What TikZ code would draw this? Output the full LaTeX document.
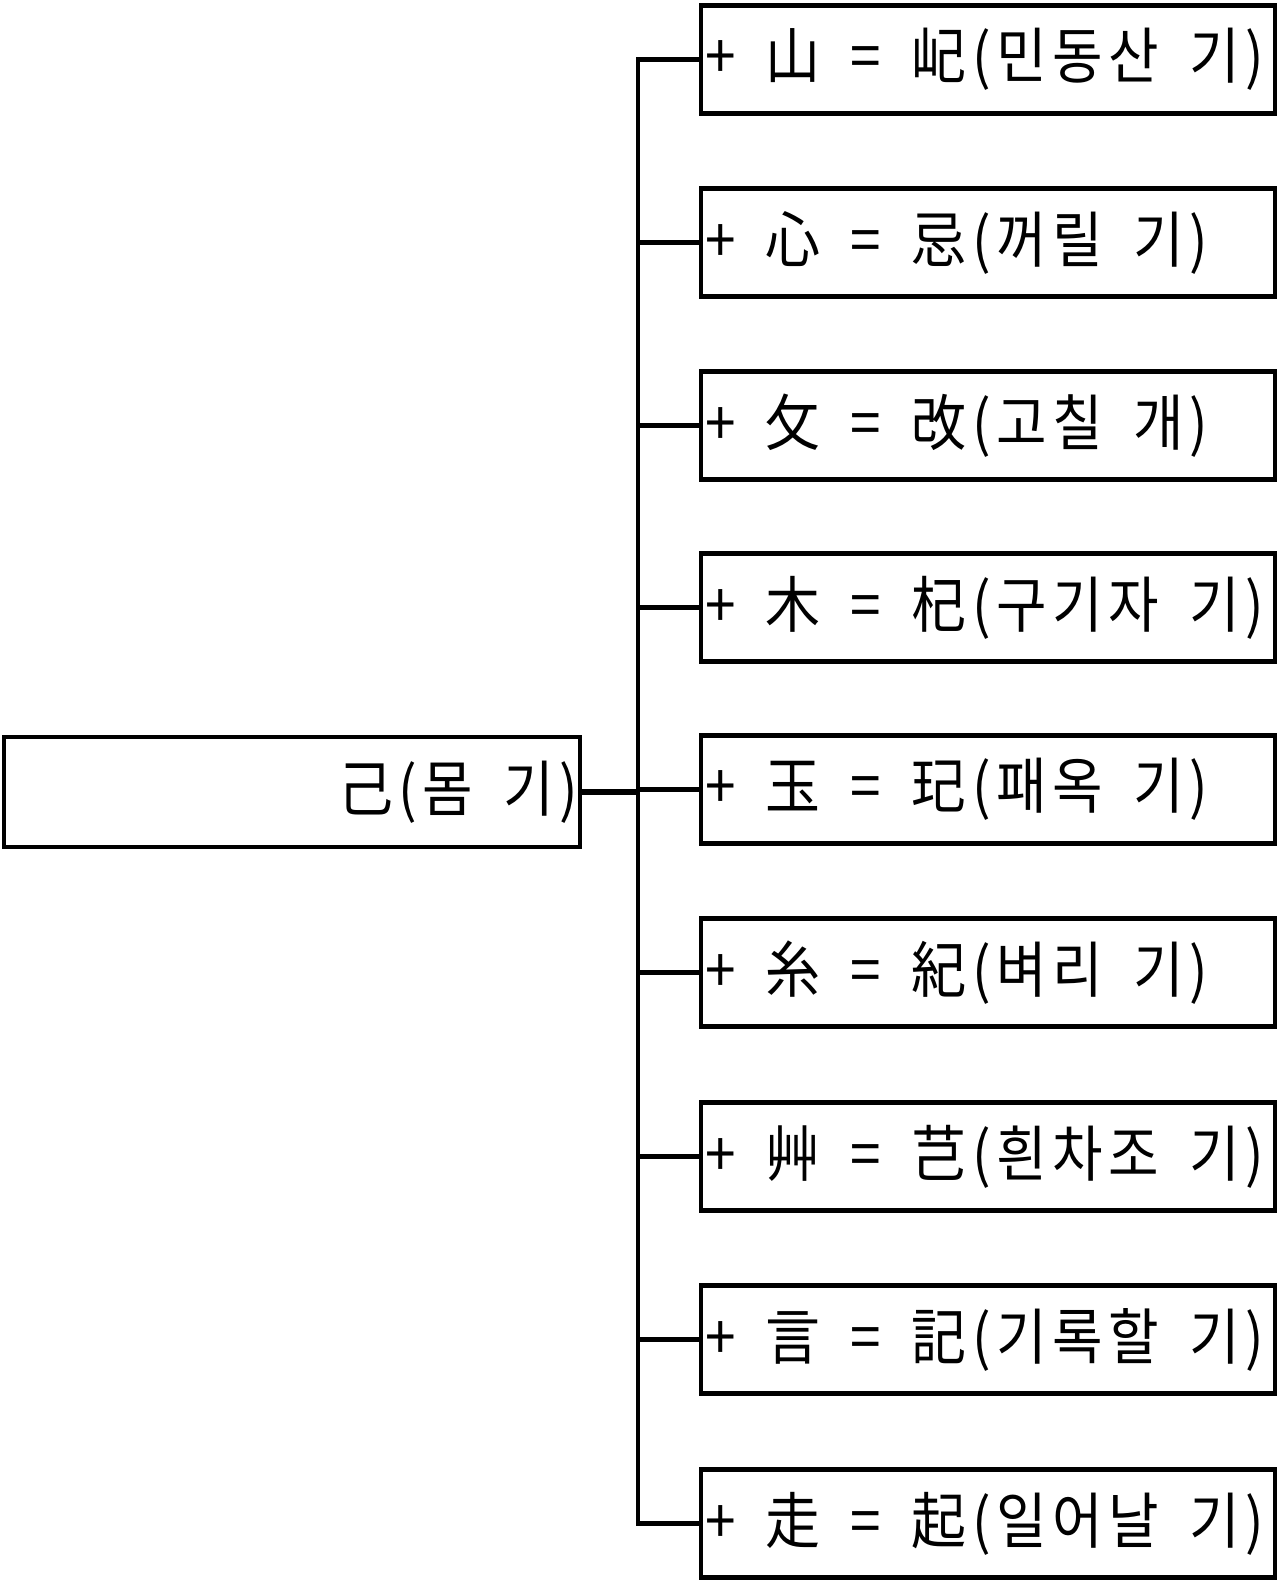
\documentclass[tikz,border=0pt]{standalone}
\usepackage{fontspec}
\setmainfont{Noto Sans CJK KR}[FakeStretch=0.9, LetterSpace=9]
\newcommand\boxfont{\fontsize{61}{61}\selectfont}
\newcommand\gp{\hspace{10pt}}
\begin{document}
\begin{tikzpicture}[x=1pt,y=-1pt,
  box/.style={draw, line width=4.5pt, inner sep=0pt, font=\boxfont},
  rbox/.style={box, minimum width=574pt, minimum height=108pt, text width=566pt, align=left},
  conn/.style={line width=4.5pt}]
\useasboundingbox (0,0) rectangle (1280,1583);
\node[box, minimum width=576pt, minimum height=110pt, text width=572pt, align=right] (root) at (292,792) {己(몸 \gp 기)};
\coordinate (trunk) at (638,792);
\foreach \i/\y/\t in {1/59.6/{+ \gp 山 \gp = \gp 屺(민동산 \gp 기)},2/242.6/{+ \gp 心 \gp = \gp 忌(꺼릴 \gp 기)},3/425.6/{+ \gp 攵 \gp = \gp 改(고칠 \gp 개)},4/607.6/{+ \gp 木 \gp = \gp 杞(구기자 \gp 기)},5/789.6/{+ \gp 玉 \gp = \gp 玘(패옥 \gp 기)},6/972.6/{+ \gp 糸 \gp = \gp 紀(벼리 \gp 기)},7/1156.6/{+ \gp 艸 \gp = \gp 芑(흰차조 \gp 기)},8/1339.6/{+ \gp 言 \gp = \gp 記(기록할 \gp 기)},9/1523.6/{+ \gp 走 \gp = \gp 起(일어날 \gp 기)}}{
  \node[rbox] (b\i) at (988,\y) {\t};
  \draw[conn] (b\i.west) -- (b\i.west -| trunk);
}
\draw[conn, line cap=rect] (b1.west -| trunk) -- (b9.west -| trunk);
\draw[conn, line width=6pt] (root.east) -- (trunk);
\end{tikzpicture}
\end{document}
